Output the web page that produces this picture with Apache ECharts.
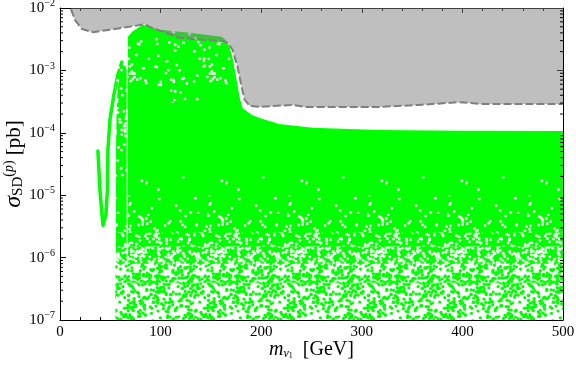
<!DOCTYPE html>
<html>
<head>
<meta charset="utf-8">
<script src="https://cdn.jsdelivr.net/npm/echarts@6/dist/echarts.min.js"></script>
<style>
  html, body { margin: 0; padding: 0; background: #fff; }
  #chart { width: 576px; height: 368px; }
</style>
</head>
<body>
<div id="chart"></div>
<script>
// excluded region: dashed limit curve (mass in GeV, sigma in pb)
var limitMass  = [10.9, 14.9, 21.8, 32.7, 49.6, 72.4, 84.3, 89, 119, 161.7, 166.7, 171.6, 176.6, 180.5, 183.5, 188.5, 198.4, 231, 243, 317.5, 357, 397, 420, 500];
var limitSigma = [9.6e-3, 6.4e-3, 4.6e-3, 4.1e-3, 4.5e-3, 5.1e-3, 5.5e-3, 5.0e-3, 3.3e-3, 2.95e-3, 2.75e-3, 2.13e-3, 1.12e-3, 5.4e-4, 3.4e-4, 2.7e-4, 2.6e-4, 2.8e-4, 2.6e-4, 2.6e-4, 2.8e-4, 3.1e-4, 2.9e-4, 2.9e-4];

// upper envelope of the main scan (green block)
var scanMass  = [67.5, 72, 82.3, 99, 129, 160.7, 164.7, 168.6, 171.6, 175.6, 178.6, 181.5, 190.5, 198.4, 218, 251, 317, 400, 500];
var scanSigma = [3.45e-3, 4.2e-3, 5.4e-3, 4.5e-3, 4.0e-3, 3.45e-3, 3.07e-3, 2.37e-3, 1.58e-3, 7.0e-4, 3.7e-4, 2.5e-4, 1.94e-4, 1.73e-4, 1.38e-4, 1.2e-4, 1.11e-4, 1.08e-4, 1.07e-4];

// narrow strip left of the main block
var stripMass  = [55.6, 56.5, 59.5, 61.5, 64.5, 66.3];
var stripSigma = [5.2e-5, 3.4e-4, 1.1e-3, 1.36e-3, 1.26e-3, 1.0e-3];

// resonance branch (thin V)
var resMass  = [37.7, 39.7, 42.7, 45.6, 47.1, 47.6, 49.6, 53.6, 57.5, 61.5];
var resSigma = [5.1e-5, 1.2e-5, 3.3e-6, 4.8e-6, 1.2e-5, 5.2e-5, 1.6e-4, 4.1e-4, 8.5e-4, 1.36e-3];

// how thinly the scan points cover each sigma band (lower edge, upper edge, gap fraction)
var bandLow  = [1e-7, 4e-7, 8e-7, 1.5e-6, 2.5e-6, 5e-6, 1e-5];
var bandHigh = [4e-7, 8e-7, 1.5e-6, 2.5e-6, 5e-6, 1e-5, 2e-5];
var bandGap  = [0.55, 0.5, 0.36, 0.22, 0.11, 0.05, 0.02];
var peakBand = [3e-4, 6e-3];

var xMin = 0, xMax = 500, yMin = 1e-7, yMax = 1e-2;
var minorDecades = [-7, -6, -5, -4, -3];
var minorSteps = [2, 3, 4, 5, 6, 7, 8, 9];

function zip(a, b) { return a.map(function (v, i) { return [v, b[i]]; }); }

var GREEN = '#00ff00';

// speckle texture (only a fill pattern, not data)
function noise(seed) {
  return function () {
    seed = (seed + 0x6D2B79F5) | 0;
    var t = Math.imul(seed ^ (seed >>> 15), 1 | seed);
    t = (t + Math.imul(t ^ (t >>> 7), 61 | t)) ^ t;
    return ((t ^ (t >>> 14)) >>> 0) / 4294967296;
  };
}
var TILE = 80;
function speckTile(gap, seed) {
  var c = document.createElement('canvas');
  c.width = c.height = TILE;
  var g = c.getContext('2d');
  var rnd = noise(seed);
  var dotsOnWhite = gap > 0.4;
  var r = dotsOnWhite ? 1.6 : 1.4;
  var cover = dotsOnWhite ? 1 - gap : gap;
  var n = Math.round(-Math.log(1 - cover) * TILE * TILE / (Math.PI * r * r));
  if (dotsOnWhite) { g.fillStyle = '#ffffff'; g.fillRect(0, 0, TILE, TILE); }
  g.fillStyle = dotsOnWhite ? GREEN : '#ffffff';
  for (var i = 0; i < n; i++) {
    var x = rnd() * TILE, y = rnd() * TILE;
    for (var dx = -1; dx <= 1; dx++) {
      for (var dy = -1; dy <= 1; dy++) {
        g.beginPath();
        g.arc(x + dx * TILE, y + dy * TILE, r, 0, Math.PI * 2);
        g.fill();
      }
    }
  }
  return { image: c, repeat: 'repeat' };
}

function rect(m0, m1, s0, s1) { return [[m0, s0], [m1, s0], [m1, s1], [m0, s1]]; }

function polySeries(pts, fill, z) {
  return {
    type: 'custom', z: z, silent: true, clip: true,
    data: pts, encode: { x: 0, y: 1 },
    renderItem: function (params, api) {
      if (params.dataIndex !== 0) return null;
      return {
        type: 'polygon',
        shape: { points: pts.map(function (p) { return api.coord(p); }) },
        style: { fill: fill }
      };
    }
  };
}

var limitPts = zip(limitMass, limitSigma);
var grayPts = limitPts.concat([[xMax, yMax], [limitMass[0], yMax]]);
var mainPts = zip(scanMass, scanSigma).concat([[xMax, yMin], [scanMass[0], yMin]]);
var stripPts = zip(stripMass, stripSigma).concat([[stripMass[stripMass.length - 1], yMin], [stripMass[0], yMin]]);

var minorVals = [];
minorDecades.forEach(function (d) {
  minorSteps.forEach(function (k) { minorVals.push(k * Math.pow(10, d)); });
});

var bandSeries = bandLow.map(function (lo, i) {
  return polySeries(rect(55, xMax, lo, bandHigh[i]), speckTile(bandGap[i], 101 + i * 17), 3);
});

var serif = 'Liberation Serif';

var chart = echarts.init(document.getElementById('chart'));
chart.setOption({
  animation: false,
  backgroundColor: '#fff',
  grid: { left: 60, right: 13, top: 8, bottom: 48, containLabel: false, outerBoundsMode: 'none' },
  xAxis: [{
    type: 'value', min: xMin, max: xMax, interval: 100, position: 'bottom',
    axisLine: { onZero: false, lineStyle: { color: '#000', width: 1 } },
    axisTick: { inside: true, length: 5, lineStyle: { color: '#000' } },
    minorTick: { show: true, splitNumber: 5, length: 3, lineStyle: { color: '#000' } },
    splitLine: { show: false },
    axisLabel: { fontFamily: serif, fontSize: 15, color: '#000', margin: 5 },
    name: '{i|m}{s|ν}{ss|1}{n|  [GeV]}', nameLocation: 'middle', nameGap: 20, nameMoveOverlap: false,
    nameTextStyle: {
      rich: {
        i: { fontFamily: serif, fontStyle: 'italic', fontSize: 20, color: '#000' },
        s: { fontFamily: serif, fontStyle: 'italic', fontSize: 12, color: '#000', verticalAlign: 'bottom', padding: [6, 0, 0, 0] },
        ss: { fontFamily: serif, fontSize: 8, color: '#000', verticalAlign: 'bottom', padding: [10, 0, 0, 0] },
        n: { fontFamily: serif, fontSize: 20, color: '#000' }
      }
    }
  }, {
    type: 'value', min: xMin, max: xMax, interval: 100, position: 'top',
    axisLine: { onZero: false, lineStyle: { color: '#000', width: 1 } },
    axisTick: { inside: true, length: 5, lineStyle: { color: '#000' } },
    minorTick: { show: true, splitNumber: 5, length: 3, lineStyle: { color: '#000' } },
    splitLine: { show: false }, axisLabel: { show: false }
  }],
  yAxis: [{
    type: 'log', logBase: 10, min: yMin, max: yMax, position: 'left',
    axisLine: { onZero: false, lineStyle: { color: '#000', width: 1 } },
    axisTick: { inside: true, length: 6, lineStyle: { color: '#000' } },
    splitLine: { show: false },
    axisLabel: {
      margin: 5,
      formatter: function (v) {
        var e = Math.round(Math.log10(v));
        return '{b|10}{e|\u2212' + Math.abs(e) + '}';
      },
      rich: {
        b: { fontFamily: serif, fontSize: 15, color: '#000' },
        e: { fontFamily: serif, fontSize: 10, color: '#000', verticalAlign: 'top', padding: [0, 0, 9, 0] }
      }
    },
    name: '{i|σ}{s|SD}{p|(}{pi|p}{p|)}{n| [pb]}', nameLocation: 'middle', nameGap: 34, nameMoveOverlap: false,
    nameTextStyle: {
      rich: {
        i: { fontFamily: serif, fontStyle: 'italic', fontSize: 24, color: '#000' },
        s: { fontFamily: serif, fontSize: 15, color: '#000', verticalAlign: 'bottom', padding: [9, 0, 0, 0] },
        p: { fontFamily: serif, fontSize: 14, color: '#000', verticalAlign: 'top', padding: [0, 0, 10, 0] },
        pi: { fontFamily: serif, fontStyle: 'italic', fontSize: 14, color: '#000', verticalAlign: 'top', padding: [0, 0, 10, 0] },
        n: { fontFamily: serif, fontSize: 21, color: '#000' }
      }
    }
  }, {
    type: 'log', logBase: 10, min: yMin, max: yMax, position: 'right',
    axisLine: { onZero: false, lineStyle: { color: '#000', width: 1 } },
    axisTick: { inside: true, length: 6, lineStyle: { color: '#000' } },
    splitLine: { show: false }, axisLabel: { show: false }
  }],
  series: [
    polySeries(mainPts, GREEN, 1),
    polySeries(stripPts, GREEN, 1),
    {
      type: 'line', z: 1, silent: true, symbol: 'none', clip: true,
      data: zip(resMass, resSigma),
      lineStyle: { color: GREEN, width: 3.5, cap: 'round', join: 'round' }
    },
    polySeries(rect(67.5, 176, peakBand[0], peakBand[1]), speckTile(0.07, 7), 2),
    polySeries(rect(55, 66.5, 2e-5, 1.4e-3), speckTile(0.2, 11), 2)
  ].concat(bandSeries).concat([
    polySeries(grayPts, 'rgba(128,128,128,0.5)', 5),
    {
      type: 'line', z: 6, silent: true, symbol: 'none',
      data: limitPts,
      lineStyle: { color: '#7f7f7f', width: 2, type: [8, 3] }
    },
    {
      type: 'custom', z: 7, silent: true, clip: false,
      data: minorVals.map(function (v) { return [xMin, v]; }),
      encode: { x: 0, y: 1 },
      renderItem: function (params, api) {
        var v = api.value(1);
        var a = api.coord([xMin, v]);
        var b = api.coord([xMax, v]);
        return {
          type: 'group',
          children: [
            { type: 'line', shape: { x1: a[0], y1: a[1], x2: a[0] + 3, y2: a[1] }, style: { stroke: '#000', lineWidth: 1 } },
            { type: 'line', shape: { x1: b[0], y1: b[1], x2: b[0] - 3, y2: b[1] }, style: { stroke: '#000', lineWidth: 1 } }
          ]
        };
      }
    }
  ])
});
</script>
</body>
</html>
